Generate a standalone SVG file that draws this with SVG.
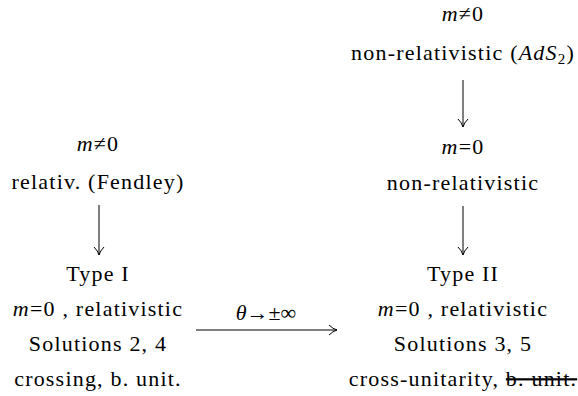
<svg xmlns="http://www.w3.org/2000/svg" width="578" height="396" viewBox="0 0 578 396">
<defs>
<style>
text{font-family:"Liberation Serif","DejaVu Serif",serif;font-size:22px;letter-spacing:1.2px;fill:#000;text-anchor:middle}
.i{font-style:italic}
.c{stroke:#000;stroke-width:1;fill:none}
</style>
<marker id="ah" viewBox="0 0 10 12" refX="9" refY="6" markerWidth="10" markerHeight="12" markerUnits="userSpaceOnUse" orient="auto">
<path d="M1,1 Q5,5 9,6 Q5,7 1,11" fill="none" stroke="#000" stroke-width="1"/>
</marker>
</defs>
<rect width="578" height="396" fill="#fff"/>
<g id="n1">
<text x="98" y="151"><tspan class="i">m</tspan>≠0</text>
<text x="98" y="189">relativ. (Fendley)</text>
</g>
<g id="n2">
<text x="98" y="281">Type I</text>
<text x="98" y="316"><tspan class="i">m</tspan>=0 , relativistic</text>
<text x="98" y="351">Solutions 2, 4</text>
<text x="98" y="386">crossing, b. unit.</text>
</g>
<g id="n3">
<text x="463" y="21"><tspan class="i">m</tspan>≠0</text>
<text x="463" y="60">non-relativistic (<tspan class="i">AdS</tspan><tspan font-size="15" dy="4">2</tspan><tspan dy="-4">)</tspan></text>
</g>
<g id="n4">
<text x="463" y="154"><tspan class="i">m</tspan>=0</text>
<text x="463" y="190">non-relativistic</text>
</g>
<g id="n5">
<text x="463" y="281">Type II</text>
<text x="463" y="316"><tspan class="i">m</tspan>=0 , relativistic</text>
<text x="463" y="351">Solutions 3, 5</text>
<text x="463" y="386">cross-unitarity, <tspan text-decoration="line-through">b. unit.</tspan></text>
</g>
<g id="connectors">
<line class="c" x1="99" y1="205" x2="99" y2="255" marker-end="url(#ah)"/>
<line class="c" x1="463" y1="80" x2="463" y2="127" marker-end="url(#ah)"/>
<line class="c" x1="463" y1="206" x2="463" y2="255" marker-end="url(#ah)"/>
<line class="c" x1="196" y1="330" x2="337" y2="330" marker-end="url(#ah)"/>
<text x="266" y="320" style="letter-spacing:0"><tspan class="i">θ</tspan>→±∞</text>
</g>
</svg>
